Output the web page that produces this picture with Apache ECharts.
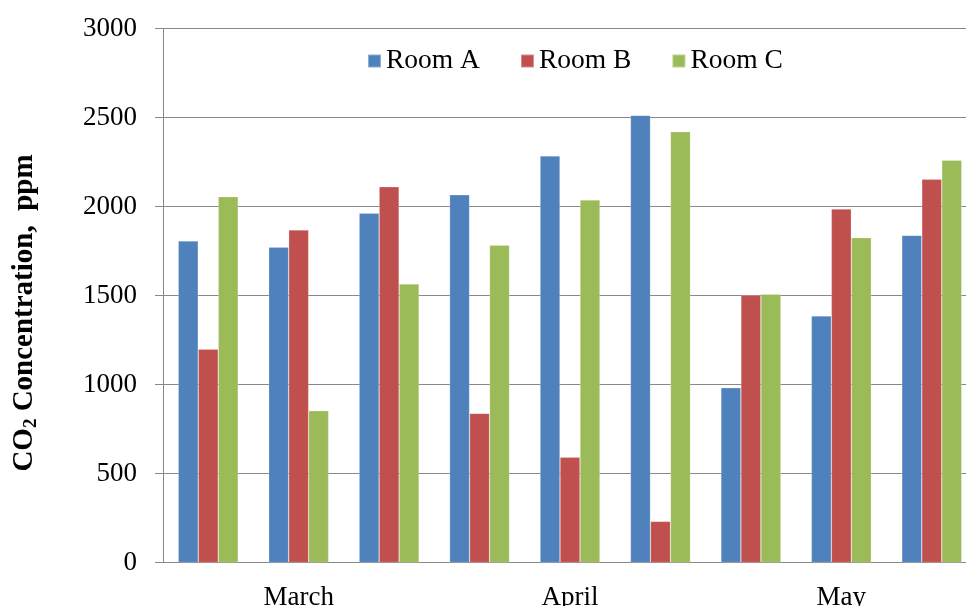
<!DOCTYPE html>
<html>
<head>
<meta charset="utf-8">
<script src="https://cdn.jsdelivr.net/npm/echarts@6/dist/echarts.min.js"></script>
<style>
html,body{margin:0;padding:0;background:#fff;}
#chart{width:966px;height:606px;}
</style>
</head>
<body>
<div id="chart"></div>
<script>
var categories = ['March 1','March 2','March 3','April 1','April 2','April 3','May 1','May 2','May 3'];
var xTickLabels = ['', 'March', '', '', 'April', '', '', 'May', ''];
var roomA = [1806, 1771, 1962, 2066, 2284, 2512, 982, 1385, 1838];
var roomB = [1198, 1868, 2111, 838, 591, 231, 1501, 1986, 2153];
var roomC = [2055, 853, 1565, 1782, 2037, 2420, 1508, 1825, 2260];
var seriesNames = ['Room A', 'Room B', 'Room C'];
var colors = ['#4F81BD', '#C0504D', '#9BBB59'];

var font = 'Liberation Serif, Times New Roman, serif';
var chart = echarts.init(document.getElementById('chart'), null, {renderer: 'canvas'});
var data = [roomA, roomB, roomC];
chart.setOption({
  animation: false,
  backgroundColor: '#fff',
  color: colors,
  grid: {left: 163, right: -11, top: 28.5, bottom: 43.5, containLabel: false, outerBoundsMode: 'none'},
  legend: {
    data: seriesNames,
    left: 362, top: 42,
    itemWidth: 13, itemHeight: 13, itemGap: 40,
    icon: 'rect',
    textStyle: {fontFamily: font, fontSize: 27.5, color: '#000'}
  },
  graphic: [{
    type: 'text',
    x: 25, y: 313,
    rotation: Math.PI / 2,
    style: {
      text: '{n|CO}{s|2}{n| Concentration,  ppm}',
      align: 'center', verticalAlign: 'middle',
      rich: {
        n: {fontFamily: font, fontSize: 29, fontWeight: 'bold', fill: '#000', lineHeight: 32},
        s: {fontFamily: font, fontSize: 19, fontWeight: 'bold', fill: '#000', lineHeight: 32, padding: [10, 0, 0, 0], verticalAlign: 'bottom'}
      }
    }
  }],
  xAxis: {
    type: 'category',
    data: categories,
    axisLine: {lineStyle: {color: '#888', width: 1}},
    axisTick: {show: false},
    axisLabel: {
      interval: 0, margin: 22,
      fontFamily: font, fontSize: 27, color: '#000',
      formatter: function (v, i) { return xTickLabels[i]; }
    }
  },
  yAxis: {
    type: 'value',
    min: 0, max: 3000, interval: 500,
    axisLine: {show: true, lineStyle: {color: '#888', width: 1}},
    axisTick: {show: true, length: 8, lineStyle: {color: '#888'}},
    splitLine: {lineStyle: {color: '#888', width: 1}},
    axisLabel: {margin: 26, fontFamily: font, fontSize: 27, color: '#000',
      formatter: function (v) { return String(v); }}
  },
  series: seriesNames.map(function (n, k) {
    return {
      name: n, type: 'bar', data: data[k],
      barGap: '0%', barCategoryGap: '33.7%',
      itemStyle: {color: colors[k], borderColor: 'rgba(255,255,255,0.35)', borderWidth: 0.6}
    };
  })
});
</script>
</body>
</html>
